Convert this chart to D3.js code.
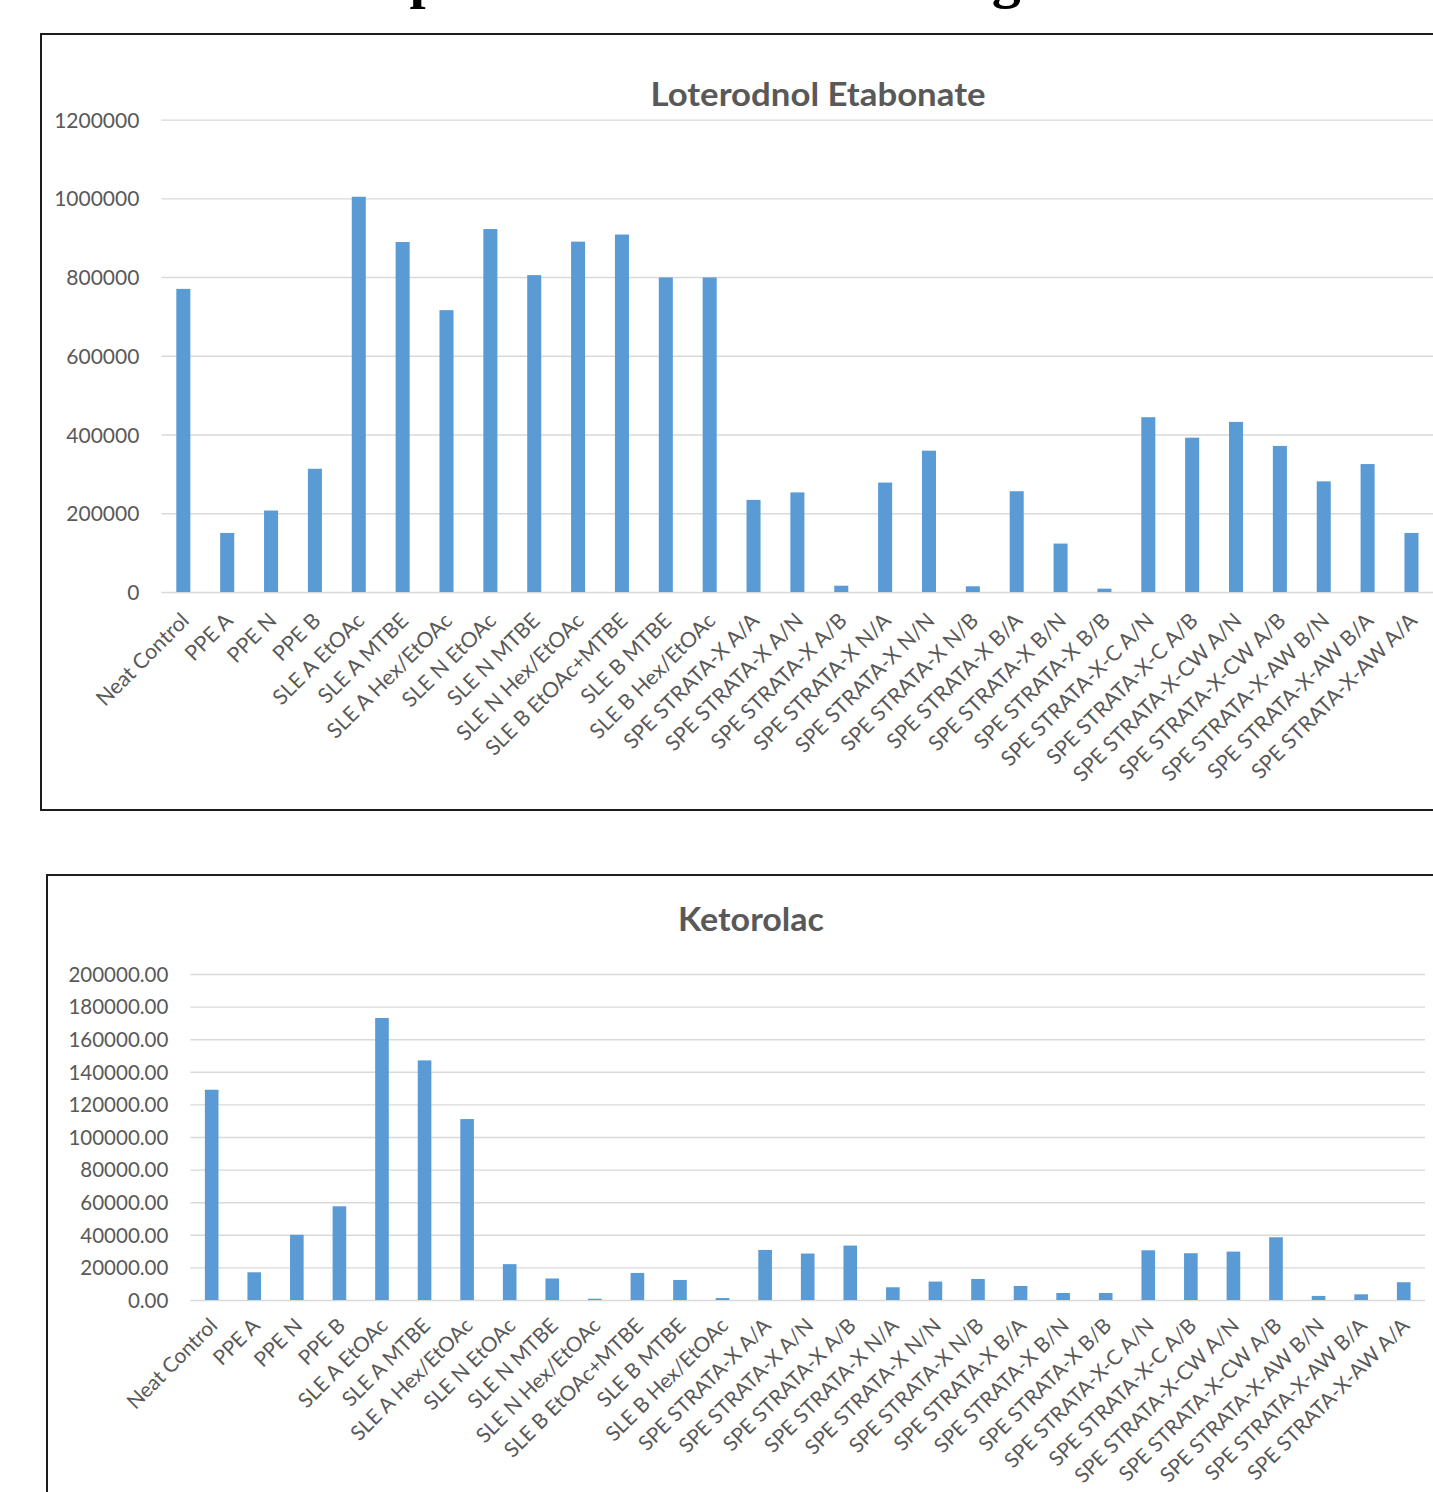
<!DOCTYPE html>
<html>
<head>
<meta charset="utf-8">
<script src="https://cdn.jsdelivr.net/npm/d3@7"></script>
<style>
  html, body { margin: 0; padding: 0; background: #ffffff; }
  svg { display: block; }
</style>
</head>
<body>
<svg id="page" width="1433" height="1492"></svg>
<script>
// Extraction methods tested (same order in both panels)
const methods = [
  "Neat Control", "PPE A", "PPE N", "PPE B",
  "SLE A EtOAc", "SLE A MTBE", "SLE A Hex/EtOAc",
  "SLE N EtOAc", "SLE N MTBE", "SLE N Hex/EtOAc",
  "SLE B EtOAc+MTBE", "SLE B MTBE", "SLE B Hex/EtOAc",
  "SPE STRATA-X A/A", "SPE STRATA-X A/N", "SPE STRATA-X A/B",
  "SPE STRATA-X N/A", "SPE STRATA-X N/N", "SPE STRATA-X N/B",
  "SPE STRATA-X B/A", "SPE STRATA-X B/N", "SPE STRATA-X B/B",
  "SPE STRATA-X-C A/N", "SPE STRATA-X-C A/B",
  "SPE STRATA-X-CW A/N", "SPE STRATA-X-CW A/B",
  "SPE STRATA-X-AW B/N", "SPE STRATA-X-AW B/A", "SPE STRATA-X-AW A/A"
];

// Peak area response, loteprednol etabonate
const loteprednolArea = [
  770000, 150000, 207000, 313000,
  1004000, 889000, 716000,
  922000, 805000, 890000,
  908000, 799000, 799000,
  234000, 253000, 16000,
  278000, 359000, 14500,
  256000, 123000, 8500,
  444000, 392000,
  432000, 371000,
  281000, 325000, 150000
];

// Peak area response, ketorolac
const ketorolacArea = [
  129000, 17000, 40000, 57500,
  173000, 147000, 111000,
  22000, 13200, 800,
  16600, 12300, 1200,
  30700, 28500, 33400,
  7800, 11300, 12900,
  8600, 4300, 4300,
  30500, 28700,
  29700, 38500,
  2500, 3500, 10900
];

const loteprednolTicks = [0, 200000, 400000, 600000, 800000, 1000000, 1200000];
const ketorolacTicks = [0, 20000, 40000, 60000, 80000, 100000, 120000, 140000, 160000, 180000, 200000];

const svg = d3.select("#page");
const FONT = "Lato, 'Open Sans', sans-serif";
const TEXT_GREY = "#595959";
const BAR_BLUE = "#5B9BD5";
const GRID_GREY = "#d9d9d9";

// Heading of the page, running off the top edge
svg.append("text")
  .attr("x", 300)
  .attr("y", -3)
  .attr("font-family", "'Liberation Serif', 'Times New Roman', serif")
  .attr("font-weight", "bold")
  .attr("font-size", 58)
  .attr("fill", "#000")
  .text("Sample Extraction Screening");

function drawPanel(opt) {
  const g = svg.append("g");

  // chart frame
  g.append("rect")
    .attr("x", opt.frame[0]).attr("y", opt.frame[1])
    .attr("width", opt.frame[2]).attr("height", opt.frame[3])
    .attr("fill", "#fff")
    .attr("stroke", "#1c1c1c")
    .attr("stroke-width", 2);

  const x = d3.scaleBand()
    .domain(methods)
    .range([opt.left, opt.right])
    .paddingInner(0.68)
    .paddingOuter(0.34);

  const y = d3.scaleLinear()
    .domain([0, opt.ticks[opt.ticks.length - 1]])
    .range([opt.bottom, opt.top]);

  // horizontal gridlines
  const yAxis = d3.axisLeft(y)
    .tickValues(opt.ticks)
    .tickSize(-(opt.right - opt.left))
    .tickPadding(opt.labelGap)
    .tickFormat(opt.format);

  const ay = g.append("g")
    .attr("transform", `translate(${opt.left},0)`)
    .call(yAxis);
  ay.select(".domain").remove();
  ay.selectAll(".tick line")
    .attr("stroke", GRID_GREY)
    .attr("stroke-width", 1.4);
  ay.selectAll(".tick text")
    .attr("fill", TEXT_GREY)
    .attr("font-family", FONT)
    .attr("font-size", opt.yFont)
    .attr("dy", "0.36em");

  // bars
  g.append("g").selectAll("rect")
    .data(methods.map((m, i) => ({ m, v: opt.values[i] })))
    .join("rect")
      .attr("x", d => x(d.m))
      .attr("width", x.bandwidth())
      .attr("y", d => y(d.v))
      .attr("height", d => y(0) - y(d.v))
      .attr("fill", BAR_BLUE);

  // category labels at -45 degrees
  const ax = g.append("g")
    .attr("transform", `translate(0,${opt.bottom})`)
    .call(d3.axisBottom(x).tickSize(0).tickPadding(0));
  ax.select(".domain").remove();
  ax.selectAll(".tick text")
    .attr("fill", TEXT_GREY)
    .attr("font-family", FONT)
    .attr("font-size", opt.xFont)
    .attr("text-anchor", "end")
    .attr("dy", 0)
    .attr("y", 0)
    .attr("transform", `translate(${opt.labelDx},${opt.labelDy}) rotate(-45)`);

  // title
  g.append("text")
    .attr("x", opt.titleX)
    .attr("y", opt.titleY)
    .attr("text-anchor", "middle")
    .attr("font-family", FONT)
    .attr("font-weight", "bold")
    .attr("font-size", opt.titleFont)
    .attr("fill", TEXT_GREY)
    .attr("textLength", opt.titleWidth)
    .attr("lengthAdjust", "spacingAndGlyphs")
    .text(opt.title);
}

drawPanel({
  title: "Loterodnol Etabonate",
  titleX: 818, titleY: 106, titleFont: 33, titleWidth: 335,
  frame: [41, 34, 1600, 776],
  left: 161.4, right: 1433.4, top: 119.6, bottom: 592,
  values: loteprednolArea,
  ticks: loteprednolTicks,
  format: d3.format("d"),
  labelGap: 22, yFont: 21, xFont: 21.3,
  labelDx: 7, labelDy: 30
});

drawPanel({
  title: "Ketorolac",
  titleX: 751, titleY: 931, titleFont: 33, titleWidth: 146,
  frame: [47, 875, 1500, 700],
  left: 190.4, right: 1425, top: 974, bottom: 1300,
  values: ketorolacArea,
  ticks: ketorolacTicks,
  format: d3.format(".2f"),
  labelGap: 22, yFont: 20.5, xFont: 20.8,
  labelDx: 7, labelDy: 27
});
</script>
</body>
</html>
